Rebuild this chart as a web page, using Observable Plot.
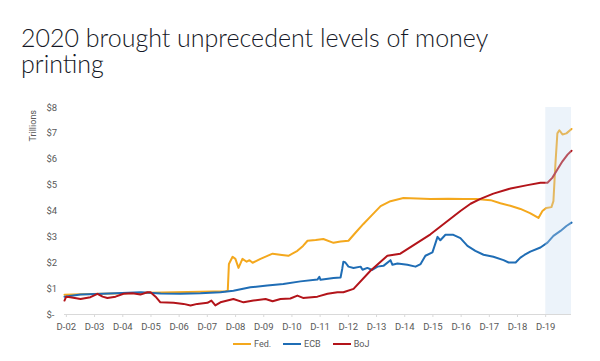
<!DOCTYPE html>
<html><head><meta charset="utf-8">
<script src="https://cdn.jsdelivr.net/npm/d3@7"></script>
<script src="https://cdn.jsdelivr.net/npm/@observablehq/plot@0.6"></script>
<style>
body{margin:0;background:#fff;width:600px;height:361px;overflow:hidden;position:relative;font-family:Roboto,sans-serif}
#title{position:absolute;left:21px;top:24px;width:540px;font-family:Lato,sans-serif;font-weight:300;font-size:25px;line-height:26px;color:#151826;}
#chart{position:absolute;left:0;top:90px}
#legend{position:absolute;top:339px;left:233px;display:flex;gap:12px;font-size:9px;color:#595959;align-items:center}
#legend span.item{display:flex;align-items:center;gap:3px}
</style>
</head><body>
<div id="title">2020 brought unprecedent levels of money printing</div>
<div id="chart"></div>
<div id="legend"></div>
<script>
// ---- data (decimal year, trillions USD) ----
const seriesNames = ["Fed.", "ECB", "BoJ"];
const seriesColors = ["#f4a81d", "#1f6db5", "#b3141a"];

const fedT = [2002.89,2003.5,2004.2,2005.0,2005.9,2006.8,2007.7,2008.6,2008.68,2008.72,2008.85,2008.95,2009.06,2009.2,2009.35,2009.45,2009.56,2009.84,2010.27,2010.6,2010.83,2011.15,2011.35,2011.51,2011.8,2012.07,2012.43,2012.68,2012.96,2013.2,2013.49,2013.8,2014.1,2014.45,2014.91,2015.4,2015.87,2016.5,2017.04,2017.5,2018.0,2018.35,2018.7,2019.06,2019.4,2019.7,2019.84,2019.98,2020.16,2020.23,2020.3,2020.37,2020.44,2020.55,2020.69,2020.87];
const fedV = [0.76,0.78,0.80,0.82,0.84,0.86,0.88,0.90,0.92,1.95,2.23,2.15,1.80,2.15,2.04,2.10,2.00,2.15,2.35,2.30,2.27,2.46,2.65,2.85,2.88,2.92,2.77,2.82,2.85,3.15,3.50,3.85,4.19,4.38,4.50,4.48,4.46,4.47,4.46,4.46,4.42,4.30,4.20,4.08,3.92,3.73,4.00,4.12,4.15,4.38,5.8,7.00,7.12,6.96,7.00,7.17];

const ecbT = [2002.89,2003.46,2004.0,2004.7,2005.6,2006.3,2007.0,2007.71,2008.42,2008.88,2009.48,2010.08,2010.65,2011.26,2011.86,2011.93,2011.97,2012.43,2012.68,2012.74,2012.78,2012.85,2012.96,2013.14,2013.39,2013.46,2013.63,2013.8,2013.99,2014.2,2014.45,2014.52,2014.7,2015.05,2015.34,2015.52,2015.69,2015.94,2016.12,2016.22,2016.4,2016.68,2016.93,2017.18,2017.46,2017.75,2018.1,2018.46,2018.64,2018.89,2019.06,2019.2,2019.41,2019.77,2020.02,2020.23,2020.48,2020.69,2020.87];
const ecbV = [0.69,0.77,0.79,0.82,0.86,0.81,0.80,0.82,0.86,0.92,1.05,1.12,1.18,1.28,1.35,1.46,1.34,1.41,1.43,1.77,2.04,2.01,1.85,1.80,1.85,1.73,1.80,1.72,1.85,1.88,2.10,1.92,1.97,1.92,1.85,1.95,2.27,2.40,3.00,2.87,3.08,3.08,2.95,2.65,2.46,2.31,2.23,2.10,2.01,2.01,2.20,2.30,2.43,2.59,2.78,3.04,3.23,3.42,3.55];

const bojT = [2002.89,2002.95,2003.1,2003.46,2003.81,2004.06,2004.24,2004.41,2004.7,2004.98,2005.3,2005.58,2005.83,2005.94,2006.12,2006.29,2006.76,2007.11,2007.36,2007.6,2007.96,2008.1,2008.24,2008.42,2008.88,2009.24,2009.59,2010.02,2010.27,2010.55,2010.9,2011.15,2011.35,2011.86,2012.22,2012.57,2012.78,2013.14,2013.74,2014.34,2014.8,2015.87,2016.93,2017.29,2017.64,2018.1,2018.71,2019.31,2019.77,2020.02,2020.19,2020.37,2020.55,2020.73,2020.87];
const bojV = [0.54,0.69,0.67,0.60,0.67,0.80,0.69,0.64,0.69,0.80,0.82,0.77,0.86,0.86,0.69,0.47,0.45,0.41,0.35,0.41,0.45,0.54,0.35,0.47,0.60,0.47,0.54,0.60,0.51,0.60,0.62,0.73,0.64,0.69,0.80,0.86,0.86,0.99,1.69,2.27,2.35,3.10,4.00,4.28,4.47,4.67,4.87,5.00,5.09,5.09,5.28,5.60,5.92,6.18,6.33];

const tickYears = [2002,2003,2004,2005,2006,2007,2008,2009,2010,2011,2012,2013,2014,2015,2016,2017,2018,2019];
const tickLabels = ["D-02","D-03","D-04","D-05","D-06","D-07","D-08","D-09","D-10","D-11","D-12","D-13","D-14","D-15","D-16","D-17","D-18","D-19"];
const yTicks = [0,1,2,3,4,5,6,7,8];
const yTickLabels = ["$-","$1","$2","$3","$4","$5","$6","$7","$8"];
const highlight = [2019.96, 2020.87]; // shaded 2020 period
const xExtent = [2002.89, 2020.87];

// ---- helpers ----
function toDate(f){const y=Math.floor(f);const s=Date.UTC(y,0,1),e=Date.UTC(y+1,0,1);return new Date(s+(f-y)*(e-s));}
const rows = [];
[[fedT,fedV],[ecbT,ecbV],[bojT,bojV]].forEach(([t,v],k)=>{
  t.forEach((d,i)=>rows.push({series:seriesNames[k], date:toDate(d), value:v[i]}));
});
const tickDates = tickYears.map(y=>new Date(Date.UTC(y,11,16)));

const chart = Plot.plot({
  width:600, height:245,
  marginLeft:64, marginRight:29, marginTop:17, marginBottom:21,
  style:{fontFamily:"Roboto, sans-serif", fontSize:"9.5px", color:"#595959", background:"transparent", overflow:"visible"},
  x:{type:"utc", domain:xExtent.map(toDate)},
  y:{domain:[0,8]},
  color:{domain:seriesNames, range:seriesColors},
  marks:[
    Plot.line(rows, {x:"date", y:"value", z:"series", stroke:"series", strokeWidth:2, curve:"linear"}),
    Plot.rect([highlight], {x1:d=>toDate(d[0]), x2:d=>toDate(d[1]), y1:0, y2:8, fill:"#c5d9f1", fillOpacity:0.32}),
    Plot.ruleY([0], {stroke:"#d9d9d9", strokeWidth:1}),
    Plot.axisX({ticks:tickDates, tickFormat:d=>tickLabels[tickDates.findIndex(t=>+t===+d)], tickSize:3, tickPadding:6, stroke:"#d9d9d9", label:null}),
    Plot.axisY({ticks:yTicks, tickFormat:d=>yTickLabels[yTicks.indexOf(d)], tickSize:0, tickPadding:18, textAnchor:"start", label:null})
  ]
});
document.getElementById("chart").appendChild(chart);

d3.select(chart).append("text")
  .attr("transform","translate(36,20) rotate(-90)")
  .attr("text-anchor","end")
  .attr("font-size","9px")
  .attr("fill","#595959")
  .text("Trillions");

const legend = d3.select("#legend");
seriesNames.forEach((n,i)=>{
  const it = legend.append("span").attr("class","item");
  it.append("svg").attr("width",18).attr("height",6)
    .append("line").attr("x1",0).attr("x2",18).attr("y1",3).attr("y2",3)
    .attr("stroke",seriesColors[i]).attr("stroke-width",2);
  it.append("span").text(n);
});
</script>
</body></html>
